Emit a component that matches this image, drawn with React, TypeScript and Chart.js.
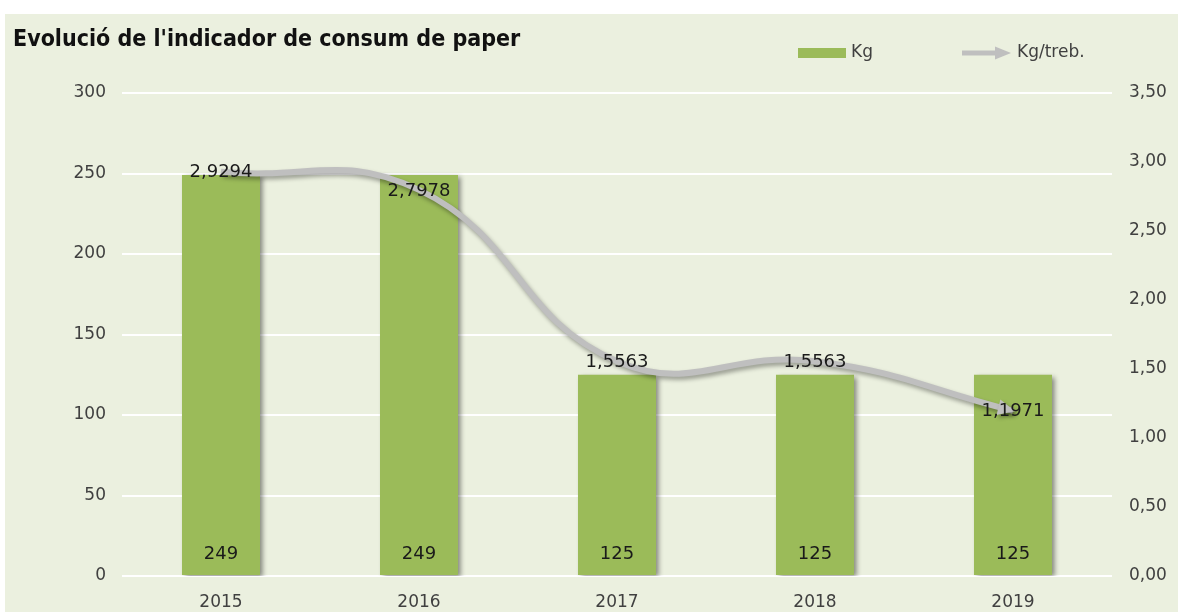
import { useEffect, useRef } from 'react';
import { Chart, registerables } from 'chart.js';

Chart.register(...registerables);

const chartTitle = "Evolució de l'indicador de consum de paper";
const years = ['2015', '2016', '2017', '2018', '2019'];
const kgValues = [249, 249, 125, 125, 125];
const kgPerWorker = [2.9294, 2.7978, 1.5563, 1.5563, 1.1971];
const barSeriesName = 'Kg';
const lineSeriesName = 'Kg/treb.';

const BG = '#EBF0DF';
const BAR = '#9BBB59';
const LINE = '#BFBFBF';
const FONT = "'DejaVu Sans', Verdana, sans-serif";

const fmt = (v: number, d: number) => v.toFixed(d).replace('.', ',');

const backgroundPlugin = {
  id: 'bgPlugin',
  beforeDraw(chart: any) {
    const { ctx, width, height } = chart;
    ctx.save();
    ctx.fillStyle = '#FFFFFF';
    ctx.fillRect(0, 0, width, height);
    ctx.fillStyle = BG;
    ctx.fillRect(5, 14, width - 5, height - 14);
    ctx.restore();
  },
};

const shadowPlugin = {
  id: 'shadowPlugin',
  beforeDatasetDraw(chart: any, args: any) {
    const ctx = chart.ctx;
    ctx.save();
    if (args.meta.type === 'bar') {
      ctx.shadowColor = 'rgba(0,0,0,0.45)';
      ctx.shadowBlur = 5;
      ctx.shadowOffsetX = 3;
      ctx.shadowOffsetY = 2;
    } else {
      ctx.shadowColor = 'rgba(0,0,0,0.35)';
      ctx.shadowBlur = 4;
      ctx.shadowOffsetX = 2;
      ctx.shadowOffsetY = 3;
    }
  },
  afterDatasetDraw(chart: any, args: any) {
    const ctx = chart.ctx;
    if (args.meta.type === 'line') {
      const pts = args.meta.data;
      const last = pts[pts.length - 1];
      const cx = last.cp1x ?? pts[pts.length - 2].x;
      const cy = last.cp1y ?? pts[pts.length - 2].y;
      const ang = Math.atan2(last.y - cy, last.x - cx);
      const len = 17;
      const hw = 8;
      const tx = last.x + Math.cos(ang) * 2;
      const ty = last.y + Math.sin(ang) * 2;
      const bx = tx - Math.cos(ang) * len;
      const by = ty - Math.sin(ang) * len;
      ctx.fillStyle = LINE;
      ctx.beginPath();
      ctx.moveTo(tx, ty);
      ctx.lineTo(bx - Math.sin(ang) * hw, by + Math.cos(ang) * hw);
      ctx.lineTo(bx + Math.sin(ang) * hw, by - Math.cos(ang) * hw);
      ctx.closePath();
      ctx.fill();
    }
    ctx.restore();
  },
};

const overlayPlugin = {
  id: 'overlayPlugin',
  afterDraw(chart: any) {
    const ctx = chart.ctx;
    ctx.save();
    // title
    ctx.fillStyle = '#111111';
    ctx.font = "bold 23px 'DejaVu Sans Condensed', 'DejaVu Sans', sans-serif";
    ctx.textAlign = 'left';
    ctx.textBaseline = 'alphabetic';
    ctx.fillText(chartTitle, 13, 46);

    // legend
    ctx.font = `17px ${FONT}`;
    ctx.textBaseline = 'middle';
    ctx.fillStyle = BAR;
    ctx.fillRect(798, 48, 48, 10);
    ctx.fillStyle = '#404040';
    ctx.fillText(barSeriesName, 851, 53);
    ctx.strokeStyle = LINE;
    ctx.lineWidth = 5;
    ctx.beginPath();
    ctx.moveTo(962, 53);
    ctx.lineTo(998, 53);
    ctx.stroke();
    ctx.fillStyle = LINE;
    ctx.beginPath();
    ctx.moveTo(1011, 53);
    ctx.lineTo(995, 46.5);
    ctx.lineTo(995, 59.5);
    ctx.closePath();
    ctx.fill();
    ctx.fillStyle = '#404040';
    ctx.fillText(lineSeriesName, 1017, 53);

    // data labels
    ctx.font = `18px ${FONT}`;
    ctx.fillStyle = '#1A1A1A';
    ctx.textAlign = 'center';
    ctx.textBaseline = 'middle';
    const barMeta = chart.getDatasetMeta(0);
    barMeta.data.forEach((el: any, i: number) => {
      ctx.fillText(String(kgValues[i]), el.x, el.base - 21);
    });
    const lineMeta = chart.getDatasetMeta(1);
    lineMeta.data.forEach((el: any, i: number) => {
      ctx.fillText(fmt(kgPerWorker[i], 4), el.x, el.y + 1);
    });
    ctx.restore();
  },
};

export default function App() {
  const ref = useRef<HTMLCanvasElement | null>(null);
  useEffect(() => {
    document.body.style.margin = '0';
    if (!ref.current) return;
    const chart = new Chart(ref.current, {
      type: 'bar',
      data: {
        labels: years,
        datasets: [
          {
            type: 'bar',
            label: barSeriesName,
            data: kgValues,
            backgroundColor: BAR,
            yAxisID: 'y',
            order: 1,
            barPercentage: 0.394,
            categoryPercentage: 1,
          },
          {
            type: 'line',
            label: lineSeriesName,
            data: kgPerWorker,
            borderColor: LINE,
            borderWidth: 6,
            tension: 0.45,
            pointRadius: 0,
            yAxisID: 'y1',
            order: 0,
            clip: false,
          } as any,
        ],
      },
      options: {
        responsive: false,
        animation: false,
        layout: { padding: { top: 93, left: 0, right: 0, bottom: 0 } },
        plugins: {
          legend: { display: false },
          title: { display: false },
          tooltip: { enabled: false },
        },
        scales: {
          x: {
            grid: { display: false },
            border: { display: false },
            ticks: { font: { family: FONT, size: 17 }, color: '#404040', padding: 8 },
            afterFit(scale: any) {
              scale.height = 36;
            },
          },
          y: {
            position: 'left',
            min: 0,
            max: 300,
            ticks: { stepSize: 50, font: { family: FONT, size: 17 }, color: '#404040', padding: 16 },
            grid: { color: '#FFFFFF', lineWidth: 2, drawTicks: false },
            border: { display: false },
            afterFit(scale: any) {
              scale.width = 122;
            },
          },
          y1: {
            position: 'right',
            min: 0,
            max: 3.5,
            ticks: {
              stepSize: 0.5,
              font: { family: FONT, size: 17 },
              color: '#404040',
              padding: 17,
              callback: (v: any) => fmt(Number(v), 2),
            },
            grid: { display: false, drawTicks: false },
            border: { display: false },
            afterFit(scale: any) {
              scale.width = 66;
            },
          },
        },
      },
      plugins: [backgroundPlugin, shadowPlugin, overlayPlugin],
    });
    return () => chart.destroy();
  }, []);
  return (
    <div style={{ width: 1178, height: 612 }}>
      <canvas ref={ref} width={1178} height={612} style={{ display: 'block' }} />
    </div>
  );
}
